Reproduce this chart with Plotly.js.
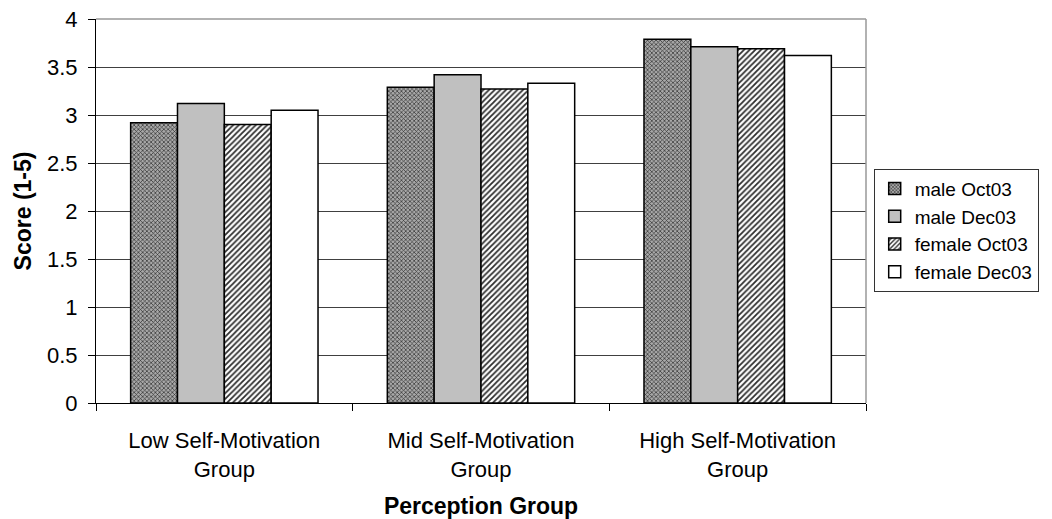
<!DOCTYPE html>
<html>
<head>
<meta charset="utf-8">
<script src="https://cdn.plot.ly/plotly-3.0.1.min.js"></script>
<style>html,body{margin:0;padding:0;background:#fff;}#chart{width:1052px;height:519px;}</style>
</head>
<body>
<div id="chart"></div>
<script>
// Data
const categories = ["Low Self-Motivation<br>Group", "Mid Self-Motivation<br>Group", "High Self-Motivation<br>Group"];
const seriesNames = ["male Oct03", "male Dec03", "female Oct03", "female Dec03"];
const maleOct03 = [2.92, 3.29, 3.79];
const maleDec03 = [3.12, 3.42, 3.71];
const femaleOct03 = [2.90, 3.27, 3.69];
const femaleDec03 = [3.05, 3.33, 3.62];
const yTicks = [0, 0.5, 1, 1.5, 2, 2.5, 3, 3.5, 4];
const yTickText = ["0", "0.5", "1", "1.5", "2", "2.5", "3", "3.5", "4"];

const FONT = "Arial, 'Liberation Sans', sans-serif";
const outline = {color: "#000", width: 1.5};

const traces = [
  {name: seriesNames[0], y: maleOct03,
   marker: {color: "#8c8c8c", line: outline, pattern: {shape: "x", fgcolor: "#2e2e2e", bgcolor: "#a8a8a8", size: 3, solidity: 0.4}}},
  {name: seriesNames[1], y: maleDec03,
   marker: {color: "#c0c0c0", line: outline}},
  {name: seriesNames[2], y: femaleOct03,
   marker: {color: "#a0a0a0", line: outline, pattern: {shape: "/", fgcolor: "#2e2e2e", bgcolor: "#ffffff", size: 4, solidity: 0.45}}},
  {name: seriesNames[3], y: femaleDec03,
   marker: {color: "#ffffff", line: outline}}
].map(t => Object.assign({type: "bar", x: categories, hoverinfo: "y+name"}, t));

const layout = {
  width: 1052, height: 519,
  margin: {l: 96, r: 186, t: 19, b: 116, pad: 0},
  paper_bgcolor: "#fff", plot_bgcolor: "#fff",
  font: {family: FONT, color: "#000", size: 22},
  barmode: "group", bargap: 0.27, bargroupgap: 0,
  showlegend: true,
  legend: {
    x: 1.01, xanchor: "left", y: 0.61, yanchor: "top",
    bordercolor: "#333", borderwidth: 1, bgcolor: "#fff",
    font: {family: FONT, size: 19, color: "#000"},
    itemwidth: 30, tracegroupgap: 0
  },
  xaxis: {
    type: "category",
    showline: true, linecolor: "#000", linewidth: 1,
    ticks: "outside", ticklen: 7, tickcolor: "#000", tickson: "boundaries",
    tickfont: {family: FONT, size: 22, color: "#000"},
    ticklabelstandoff: 18,
    showgrid: false, zeroline: false,
    title: {text: "<b>Perception Group</b>", font: {family: FONT, size: 23, color: "#000"}, standoff: 20}
  },
  yaxis: {
    range: [0, 4],
    tickvals: yTicks, ticktext: yTickText,
    showline: true, linecolor: "#000", linewidth: 1,
    ticks: "outside", ticklen: 7, tickcolor: "#000",
    tickfont: {family: FONT, size: 22, color: "#000"},
    ticklabelstandoff: 6,
    showgrid: true, gridcolor: "#404040", gridwidth: 1,
    zeroline: false,
    title: {text: "<b>Score (1-5)</b>", font: {family: FONT, size: 23, color: "#000"}, standoff: 8}
  },
  shapes: [
    {type: "line", xref: "paper", yref: "paper", x0: 0, x1: 1, y0: 1, y1: 1, line: {color: "#999", width: 1.5}, layer: "above"},
    {type: "line", xref: "paper", yref: "paper", x0: 1, x1: 1, y0: 0, y1: 1, line: {color: "#999", width: 1.5}, layer: "above"}
  ]
};

Plotly.newPlot("chart", traces, layout, {displayModeBar: false, staticPlot: true});
</script>
</body>
</html>
